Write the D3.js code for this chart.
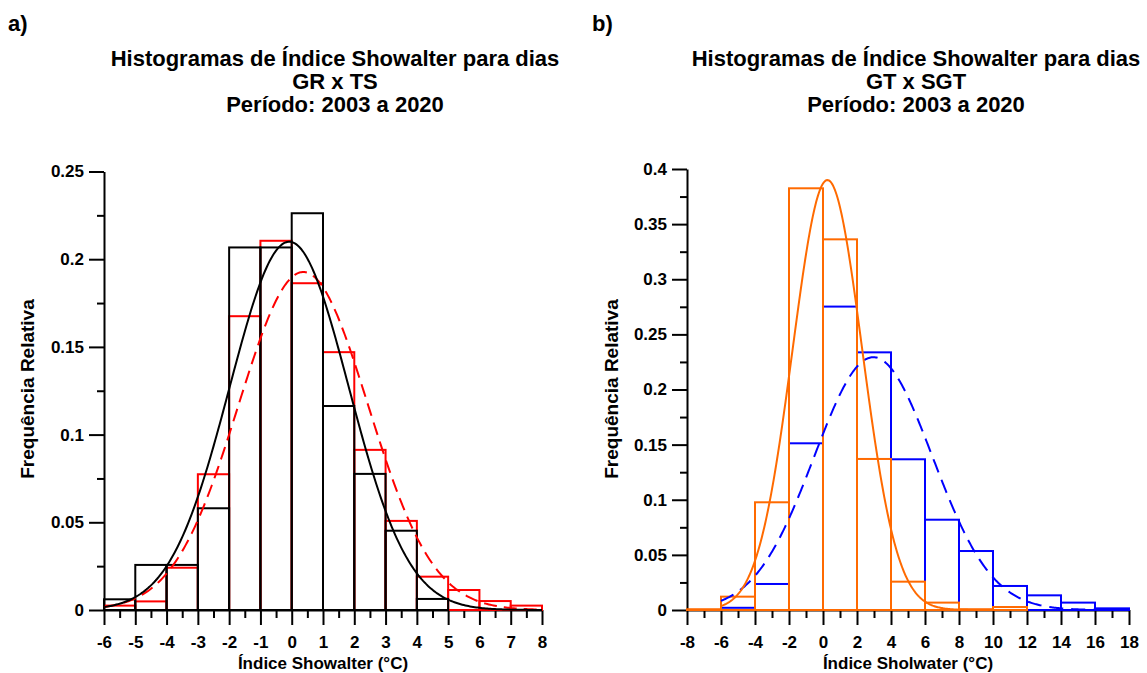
<!DOCTYPE html>
<html>
<head>
<meta charset="utf-8">
<script src="https://cdnjs.cloudflare.com/ajax/libs/d3/7.8.5/d3.min.js"></script>
<style>
  html, body { margin: 0; padding: 0; background: #fff; }
  svg { display: block; }
  text { font-family: "Liberation Sans", Arial, sans-serif; font-weight: bold; fill: #000; }
</style>
</head>
<body>
<svg id="chart" width="1147" height="673"></svg>
<script>
// ---------- Panel a data ----------
const binsA = [-6, -5, -4, -3, -2, -1, 0, 1, 2, 3, 4, 5, 6, 7];           // left edge, width 1
const blackA = [0.0061, 0.0257, 0.0257, 0.058, 0.2067, 0.2067, 0.2262, 0.1163, 0.0776, 0.0452, 0.0063, 0, 0, 0];
const redA   = [0.0025, 0.0049, 0.0241, 0.0774, 0.1675, 0.2105, 0.1863, 0.147, 0.0913, 0.0508, 0.019, 0.0114, 0.0051, 0.0025];
const fitA = [ // normal fits: [mean, sd, binWidth, from, to]
  [0.37, 2.07, 1, -6, 8],   // red dashed
  [-0.08, 1.90, 1, -6, 8]   // black solid
];
const xTicksA = [-6, -5, -4, -3, -2, -1, 0, 1, 2, 3, 4, 5, 6, 7, 8];
const yTicksA = [0, 0.05, 0.1, 0.15, 0.2, 0.25];

// ---------- Panel b data ----------
const binsB = [-8, -6, -4, -2, 0, 2, 4, 6, 8, 10, 12, 14, 16];              // left edge, width 2
const blueB   = [0, 0.002, 0.0236, 0.1512, 0.2752, 0.2337, 0.1367, 0.0819, 0.0535, 0.0218, 0.0133, 0.0067, 0.0015];
const orangeB = [0.0007, 0.0121, 0.0977, 0.3825, 0.3362, 0.137, 0.0257, 0.0067, 0.0007, 0.0027, 0, 0, 0];
const fitB = [
  [2.96, 3.48, 2, -6, 16],  // blue dashed
  [0.26, 2.046, 2, -6, 10]  // orange solid
];
const xTicksB = [-8, -6, -4, -2, 0, 2, 4, 6, 8, 10, 12, 14, 16, 18];
const yTicksB = [0, 0.05, 0.1, 0.15, 0.2, 0.25, 0.3, 0.35, 0.4];

const svg = d3.select("#chart");
svg.append("rect").attr("width", 1147).attr("height", 673).attr("fill", "#fff");

function panel(cfg) {
  const g = svg.append("g");
  const x = d3.scaleLinear().domain(cfg.xDomain).range(cfg.xRange);
  const y = d3.scaleLinear().domain(cfg.yDomain).range(cfg.yRange);

  // minor y ticks
  g.append("g").attr("transform", `translate(${cfg.xRange[0]},0)`)
    .call(d3.axisLeft(y).tickValues(cfg.yMinor).tickSize(7).tickFormat("").tickSizeOuter(0))
    .call(s => s.select(".domain").remove());
  // major y axis
  g.append("g").attr("class", "yax").attr("transform", `translate(${cfg.xRange[0]},0)`)
    .call(d3.axisLeft(y).tickValues(cfg.yTicks).tickSize(15).tickPadding(5).tickSizeOuter(0)
      .tickFormat(d => String(+d.toFixed(3))));
  // minor x ticks
  g.append("g").attr("transform", `translate(0,${cfg.yRange[0]})`)
    .call(d3.axisBottom(x).tickValues(cfg.xMinor).tickSize(8).tickFormat("").tickSizeOuter(0))
    .call(s => s.select(".domain").remove());
  // major x axis
  g.append("g").attr("class", "xax").attr("transform", `translate(0,${cfg.yRange[0]})`)
    .call(d3.axisBottom(x).tickValues(cfg.xTicks).tickSize(15).tickPadding(11).tickSizeOuter(0)
      .tickFormat(d => String(d)));

  g.selectAll(".domain").attr("stroke", "#000").attr("stroke-width", 2);
  g.selectAll(".tick line").attr("stroke", "#000").attr("stroke-width", 2);
  g.selectAll(".tick text").attr("font-size", 17).attr("font-family", '"Liberation Sans", Arial, sans-serif')
    .attr("font-weight", "bold").attr("fill", "#000");

  // bars
  cfg.series.forEach(s => {
    g.append("g").selectAll("rect").data(s.values).join("rect")
      .attr("x", (d, i) => x(cfg.bins[i]))
      .attr("width", (d, i) => x(cfg.bins[i] + cfg.binW) - x(cfg.bins[i]))
      .attr("y", d => y(d))
      .attr("height", d => y(0) - y(d))
      .attr("fill", "none")
      .attr("stroke", s.color)
      .attr("stroke-width", 2);
  });

  // fitted normal curves
  cfg.fits.forEach(f => {
    const [mu, sd, w, a, b] = f.p;
    const pts = d3.range(a, b + 0.0001, 0.05).map(v =>
      [v, w / (sd * Math.sqrt(2 * Math.PI)) * Math.exp(-0.5 * ((v - mu) / sd) ** 2)]);
    g.append("path").datum(pts)
      .attr("d", d3.line().x(d => x(d[0])).y(d => y(d[1])))
      .attr("fill", "none")
      .attr("stroke", f.color)
      .attr("stroke-width", 2)
      .attr("stroke-dasharray", f.dash || null);
  });

  // titles
  const t = g.append("text").attr("text-anchor", "middle").attr("font-size", 22);
  cfg.title.forEach((line, i) => {
    t.append("tspan").attr("x", cfg.titleX).attr("y", 66 + i * 23).text(line);
  });
  g.append("text").attr("x", cfg.tagX).attr("y", 31).attr("font-size", 22).text(cfg.tag);
  g.append("text").attr("x", (cfg.xRange[0] + cfg.xRange[1]) / 2).attr("y", 669)
    .attr("text-anchor", "middle").attr("font-size", 17).text(cfg.xLabel);
  g.append("text").attr("transform", `translate(${cfg.yLabelX},389) rotate(-90)`)
    .attr("text-anchor", "middle").attr("font-size", 19).text("Frequência Relativa");
}

panel({
  xDomain: [-6, 8], xRange: [104, 542],
  yDomain: [0, 0.25], yRange: [610, 171.5],
  xTicks: xTicksA, xMinor: d3.range(-5.5, 8, 1),
  yTicks: yTicksA, yMinor: d3.range(0.025, 0.25, 0.05),
  bins: binsA, binW: 1,
  series: [{ values: redA, color: "#ff0000" }, { values: blackA, color: "#000000" }],
  fits: [{ p: fitA[0], color: "#ff0000", dash: "13,7" }, { p: fitA[1], color: "#000000" }],
  title: ["Histogramas de Índice Showalter para dias", "GR x TS", "Período: 2003 a 2020"],
  titleX: 335, tag: "a)", tagX: 8,
  xLabel: "Índice Showalter (°C)", yLabelX: 34
});

panel({
  xDomain: [-8, 18], xRange: [687, 1129],
  yDomain: [0, 0.4], yRange: [610, 169],
  xTicks: xTicksB, xMinor: d3.range(-7, 18, 2),
  yTicks: yTicksB, yMinor: d3.range(0.025, 0.4, 0.05),
  bins: binsB, binW: 2,
  series: [{ values: blueB, color: "#0000ff" }, { values: orangeB, color: "#ff6a00" }],
  fits: [{ p: fitB[0], color: "#0000ff", dash: "14,8" }, { p: fitB[1], color: "#ff6a00" }],
  title: ["Histogramas de Índice Showalter para dias", "GT x SGT", "Período: 2003 a 2020"],
  titleX: 916, tag: "b)", tagX: 592,
  xLabel: "Índice Sholwater (°C)", yLabelX: 618
});
</script>
</body>
</html>
